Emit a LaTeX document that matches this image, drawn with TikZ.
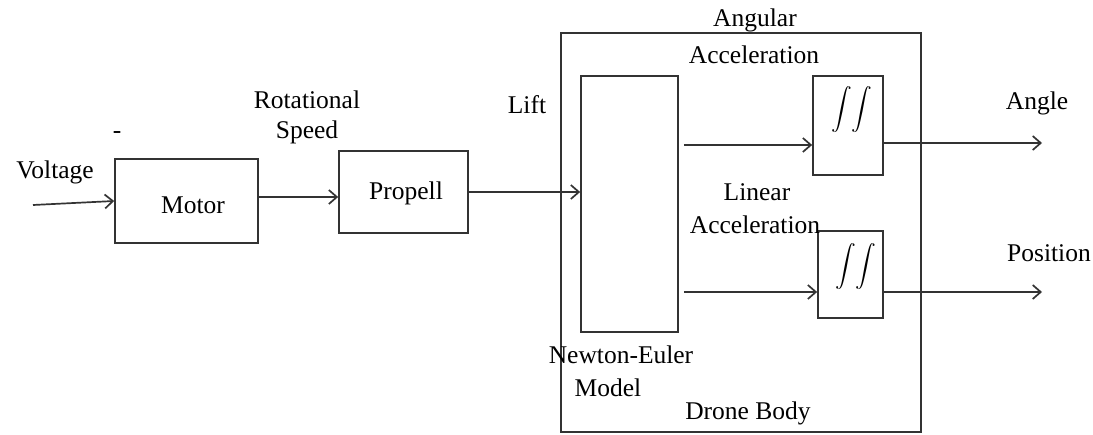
\documentclass[tikz,border=0pt]{standalone}
\usepackage{exscale}
\usepackage{fontspec}
\setmainfont{Liberation Serif}
\usetikzlibrary{arrows.meta,calc}
\begin{document}
\begin{tikzpicture}[x=1pt,y=-1pt,
  line width=1.7pt,
  arr/.style={draw=black!80,-{Straight Barb[length=8pt,width=14pt,line width=1.7pt]}},
  blk/.style={draw=black!80,rectangle,inner sep=0pt,anchor=center},
  lbl/.style={font=\fontsize{25.5}{30}\selectfont,inner sep=0pt,anchor=center,text=black},
  intg/.style={font=\fontsize{20}{24}\selectfont,inner sep=0pt,anchor=center}]
\useasboundingbox (0,0) rectangle (1093,434);
% blocks
\node[blk,minimum width=143pt,minimum height=84pt] (motor) at (186.5,201) {};
\node[blk,minimum width=129pt,minimum height=82pt] (propell) at (403.5,192) {};
\node[blk,minimum width=360pt,minimum height=399pt] (drone) at (741,232.5) {};
\node[blk,minimum width=97pt,minimum height=256pt] (newton) at (629.5,204) {};
\node[blk,minimum width=70pt,minimum height=99pt] (int1) at (848,125.5) {};
\node[blk,minimum width=65pt,minimum height=87pt] (int2) at (850.5,274.5) {};
% integral signs
\node[intg] (i1) at (852,110) {$\displaystyle\int\!\int$};
\node[intg] (i2) at (856,267) {$\displaystyle\int\!\int$};
% labels
\node[lbl] (tvolt) at (55,172) {Voltage};
\node[lbl] (tdash) at (117,135) {-};
\node[lbl] (tmotor) at (193,205) {Motor};
\node[lbl] (trot) at (307,100) {Rotational};
\node[lbl] (tspeed) at (307,132) {Speed};
\node[lbl] (tprop) at (406,193) {Propell};
\node[lbl] (tlift) at (527,105) {Lift};
\node[lbl] (tang) at (755,20) {Angular};
\node[lbl] (tacc1) at (754,55) {Acceleration};
\node[lbl] (tlin) at (757,192) {Linear};
\node[lbl] (tacc2) at (755,225) {Acceleration};
\node[lbl] (tne) at (621,355) {Newton-Euler};
\node[lbl] (tmodel) at (608,388) {Model};
\node[lbl] (tdrone) at (748,413) {Drone Body};
\node[lbl] (tangle) at (1037,103) {Angle};
\node[lbl] (tpos) at (1049,253) {Position};
% helper coordinates
\coordinate (vin) at (33,205);
\coordinate (a1) at (0,145);
\coordinate (a2) at (0,292);
\coordinate (o1) at (0,143);
\coordinate (angout) at (1042,143);
\coordinate (posout) at (1042,292);
% connectors
\draw[arr] (vin) -- (motor.west);
\draw[arr] ([yshift=4pt]motor.east) -- ([yshift=-5pt]propell.west);
\draw[arr] (propell.east) -- (propell.east -| newton.west);
\draw[arr] ($(newton.east |- a1)+(5,0)$) -- (int1.west |- a1);
\draw[arr] ($(newton.east |- a2)+(5,0)$) -- (int2.west |- a2);
\draw[arr] (int1.east |- o1) -- (angout);
\draw[arr] (int2.east |- a2) -- (posout);
\end{tikzpicture}
\end{document}
